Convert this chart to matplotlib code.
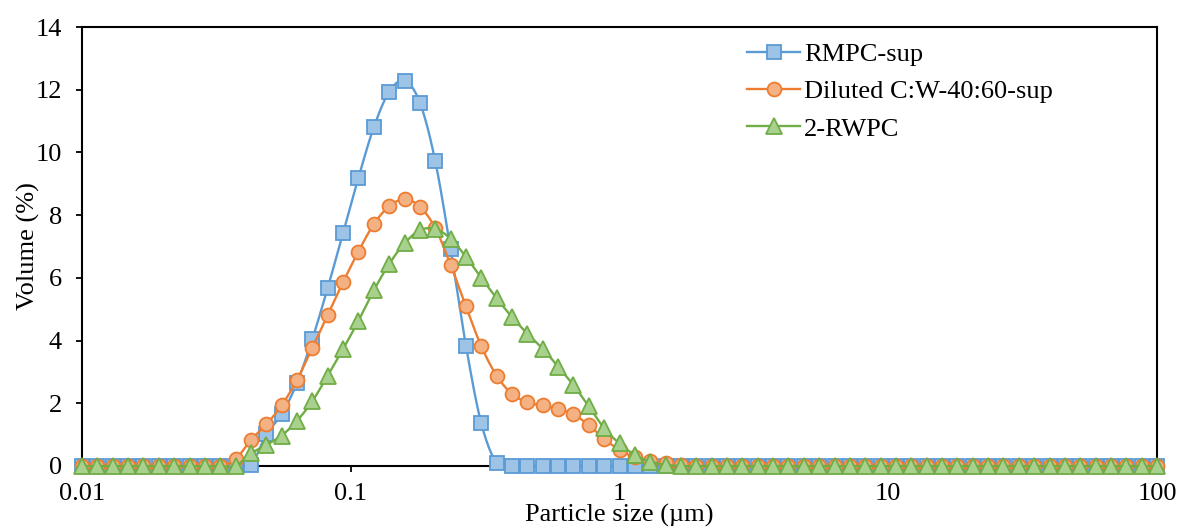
import numpy as np
import matplotlib
matplotlib.use("Agg")
from matplotlib import pyplot as plt

# particle size classes (um), log spaced 0.01 -> 100
sizes = np.logspace(-2, 2, 71)

rmpc = [0.0] * 11 + [0.03, 1.01, 1.65, 2.65, 4.05, 5.68, 7.43, 9.19, 10.80, 11.93,
                     12.29, 11.59, 9.73, 6.92, 3.84, 1.36, 0.10] + [0.0] * 43
diluted = [0.0] * 10 + [0.22, 0.83, 1.33, 1.93, 2.75, 3.77, 4.82, 5.86, 6.84, 7.71,
                        8.28, 8.51, 8.27, 7.59, 6.42, 5.09, 3.82, 2.88, 2.30, 2.03,
                        1.93, 1.82, 1.65, 1.30, 0.87, 0.51, 0.28, 0.16, 0.08, 0.03] + [0.0] * 31
rwpc = [0.0] * 11 + [0.40, 0.67, 0.97, 1.44, 2.07, 2.88, 3.73, 4.63, 5.60, 6.44,
                     7.10, 7.52, 7.56, 7.25, 6.67, 6.00, 5.35, 4.75, 4.22, 3.74,
                     3.17, 2.58, 1.90, 1.20, 0.72, 0.35, 0.14, 0.04] + [0.0] * 32

labels = ["RMPC-sup", "Diluted C:W-40:60-sup", "2-RWPC"]
x_ticks = [0.01, 0.1, 1, 10, 100]
x_ticklabels = ["0.01", "0.1", "1", "10", "100"]


def smooth(x, y, n=12):
    # Excel-like smoothed line: bezier through points, built in log-x space
    lx = np.log10(x)
    y = np.asarray(y, dtype=float)
    px = np.concatenate([[lx[0]], lx, [lx[-1]]])
    py = np.concatenate([[y[0]], y, [y[-1]]])
    outx, outy = [], []
    t = np.linspace(0, 1, n, endpoint=False)
    for i in range(1, len(px) - 2):
        p0 = np.array([px[i], py[i]])
        p3 = np.array([px[i + 1], py[i + 1]])
        c1 = p0 + (np.array([px[i + 1], py[i + 1]]) - np.array([px[i - 1], py[i - 1]])) / 6
        c2 = p3 - (np.array([px[i + 2], py[i + 2]]) - np.array([px[i], py[i]])) / 6
        b = ((1 - t) ** 3)[:, None] * p0 + (3 * (1 - t) ** 2 * t)[:, None] * c1 \
            + (3 * (1 - t) * t ** 2)[:, None] * c2 + (t ** 3)[:, None] * p3
        outx.extend(b[:, 0])
        outy.extend(b[:, 1])
    outx.append(lx[-1])
    outy.append(y[-1])
    return 10 ** np.array(outx), np.array(outy)


plt.rcParams['font.family'] = ['Liberation Serif', 'DejaVu Serif']
plt.rcParams['font.size'] = 19

fig = plt.figure(figsize=(11.8, 5.31), dpi=100)
ax = fig.add_axes([82 / 1180, 65 / 531, 1075 / 1180, 439 / 531])

styles = [
    ("s", "#9DC3E6", "#5B9BD5", 10),
    ("o", "#F4B183", "#ED7D31", 10),
    ("^", "#A9D18E", "#70AD47", 11),
]
for k, (vals, lab, (mk, fc, ec, ms)) in enumerate(zip([rmpc, diluted, rwpc], labels, styles)):
    sx, sy = smooth(sizes, vals)
    ax.plot(sx, sy, color=ec, lw=1.7, zorder=3 + k, clip_on=False)
    ax.plot(sizes, vals, ls="none", marker=mk, ms=ms, mfc=fc, mec=ec, mew=1.3,
            zorder=3 + k, clip_on=False)
    ax.plot([], [], color=ec, lw=1.7, marker=mk, ms=ms, mfc=fc, mec=ec, mew=1.3, label=lab)

ax.set_xscale("log")
ax.set_xlim(0.01, 100)
ax.set_ylim(0, 14)
ax.set_xticks(x_ticks)
ax.set_xticklabels(x_ticklabels)
ax.xaxis.set_minor_locator(matplotlib.ticker.NullLocator())
ax.set_yticks(range(0, 15, 2))

for s in ax.spines.values():
    s.set_linewidth(1.5)
    s.set_color("black")
ax.tick_params(axis="y", direction="out", length=4.5, width=1.3, pad=10)
ax.tick_params(axis="x", direction="out", length=4.5, width=1.3, pad=8)

ax.set_xlabel("Particle size (\u00b5m)", labelpad=-1)
ax.set_ylabel("Volume (%)", labelpad=-3)

ax.legend(loc="upper left", bbox_to_anchor=(0.609, 0.988), frameon=False,
          handlelength=2.0, handletextpad=0.15, labelspacing=0.52, borderaxespad=0)

fig.savefig("out.png", dpi=100)
